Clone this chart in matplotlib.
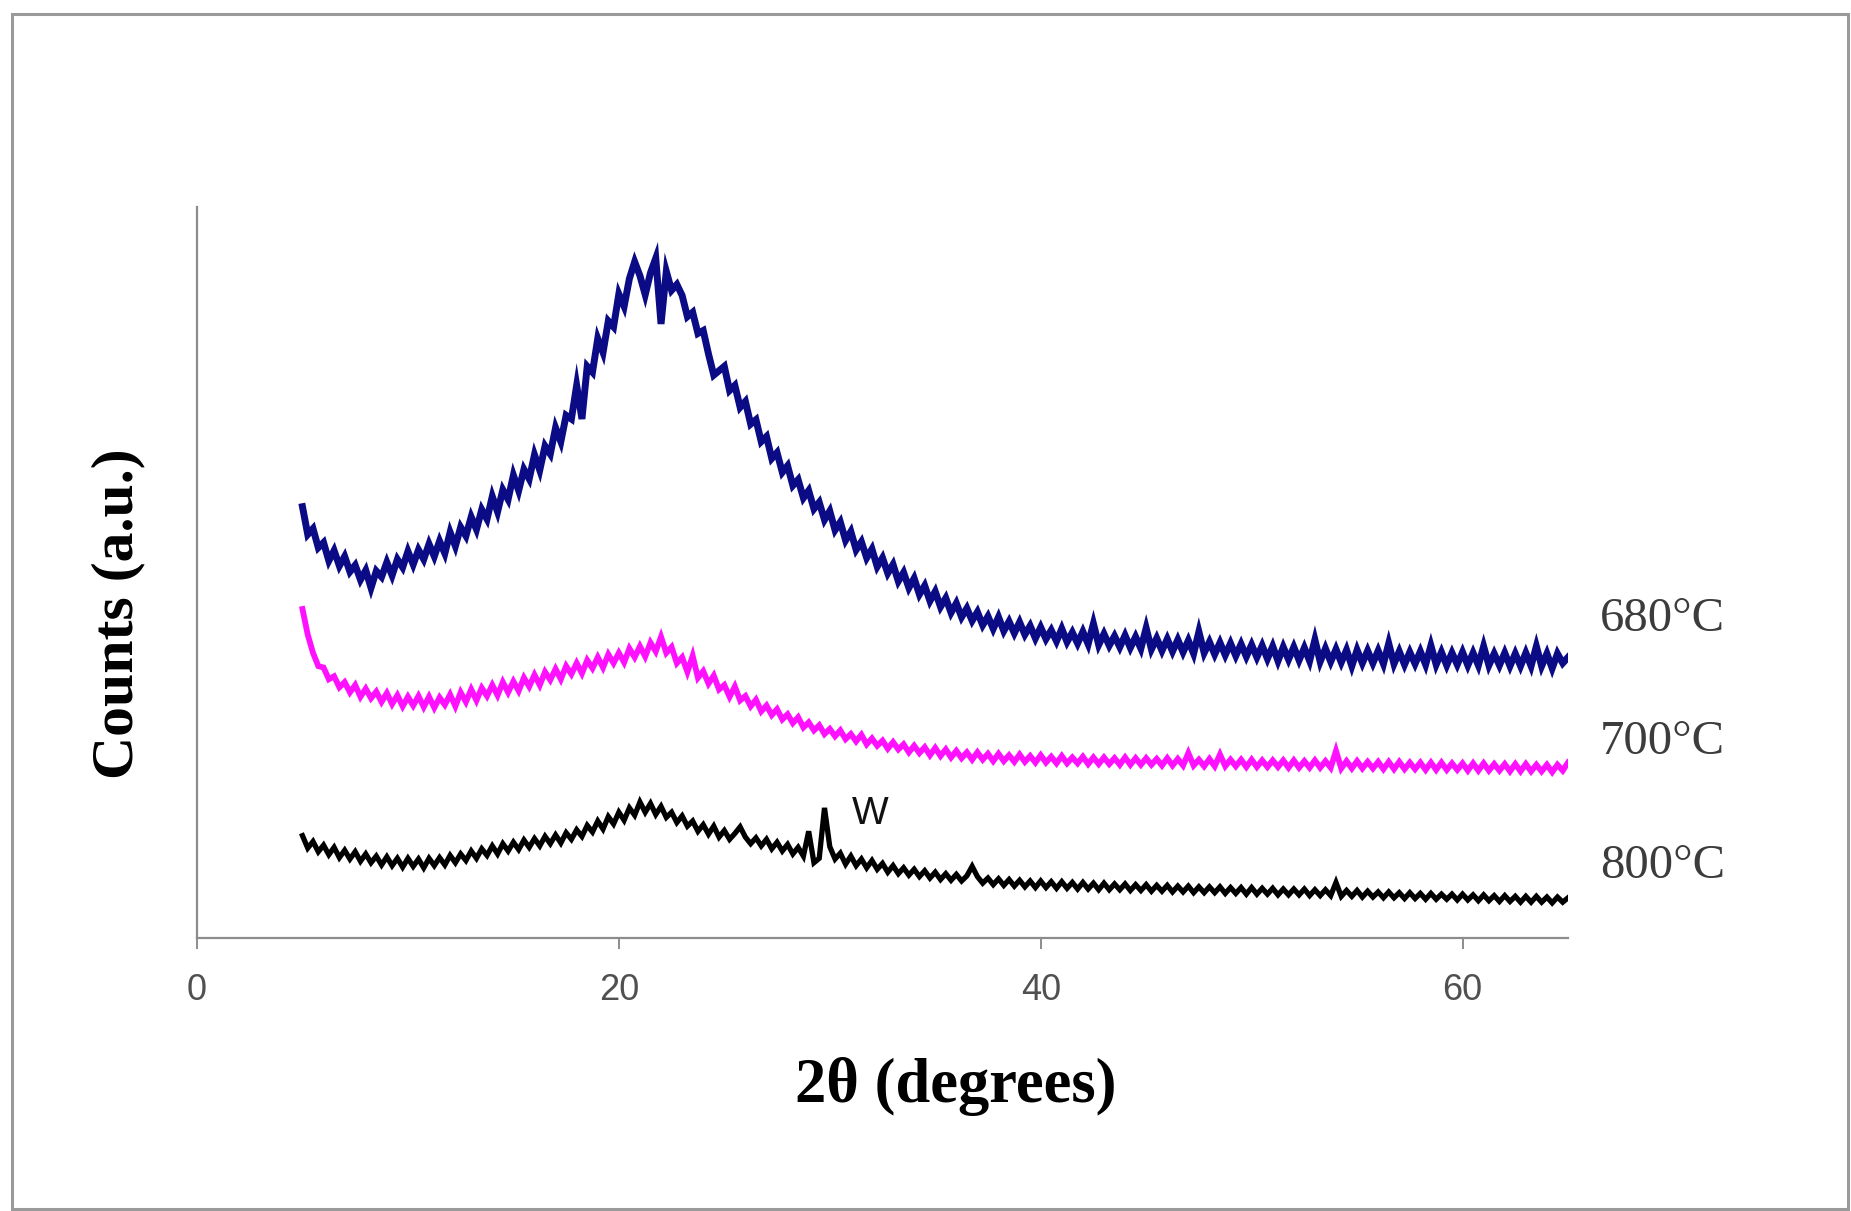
import numpy as np
import matplotlib.pyplot as plt
from matplotlib.patches import Rectangle

# 2-theta scan grid, 0.25 degree step
two_theta = np.linspace(5, 65, 241)

# one row per degree: values at x.00, x.25, x.50, x.75
counts_680 = [
    59.0, 55.2, 56.0, 53.4,
    54.1, 51.6, 53.0, 50.9,
    52.2, 50.1, 51.0, 49.0,
    50.3, 47.9, 50.2, 49.4,
    51.4, 49.6, 51.8, 50.7,
    52.9, 51.1, 53.1, 51.8,
    53.9, 52.2, 54.3, 52.6,
    55.5, 53.6, 56.2, 55.0,
    57.6, 55.9, 58.6, 57.3,
    60.4, 58.3, 61.3, 60.0,
    63.3, 61.2, 64.1, 62.8,
    66.1, 64.0, 67.3, 66.2,
    69.8, 67.9, 71.5, 71.0,
    75.6, 71.0, 78.2, 77.4,
    82.0, 80.1, 84.4, 83.6,
    88.1, 86.4, 90.2, 92.5,
    90.6, 88.0, 91.0, 93.0,
    84.0, 91.2, 88.6, 89.4,
    87.9, 85.0, 85.6, 82.7,
    83.1, 79.9, 77.0, 77.6,
    78.2, 74.9, 75.6, 72.6,
    73.4, 70.3, 70.9, 67.9,
    68.6, 65.6, 66.4, 63.7,
    64.6, 61.9, 62.7, 60.2,
    61.2, 58.7, 59.6, 57.2,
    58.4, 55.8, 56.9, 54.4,
    55.6, 53.1, 54.2, 52.0,
    53.2, 50.8, 52.0, 49.9,
    51.1, 48.8, 50.0, 47.9,
    49.2, 47.0, 48.2, 46.1,
    47.4, 45.3, 46.5, 44.5,
    45.8, 43.9, 45.1, 43.4,
    44.6, 42.8, 44.0, 42.3,
    43.9, 42.0, 43.3, 41.7,
    43.2, 41.5, 42.7, 41.0,
    42.5, 40.9, 42.1, 40.6,
    42.3, 40.5, 41.8, 40.3,
    41.9, 40.2, 43.0, 40.1,
    41.6, 40.0, 41.3, 39.8,
    41.4, 39.7, 41.2, 39.6,
    42.4, 39.5, 41.0, 39.3,
    40.9, 39.2, 40.8, 39.1,
    40.7, 38.9, 41.9, 39.0,
    40.5, 38.8, 40.4, 38.7,
    40.3, 38.6, 40.2, 38.5,
    40.1, 38.4, 40.0, 38.2,
    39.9, 37.9, 39.8, 38.1,
    39.8, 38.0, 39.7, 37.9,
    40.8, 37.8, 39.6, 37.8,
    39.5, 37.7, 39.4, 37.2,
    39.4, 37.6, 39.3, 37.6,
    39.3, 37.5, 40.3, 37.5,
    39.2, 37.4, 39.1, 37.5,
    39.2, 37.4, 40.0, 37.4,
    39.1, 37.3, 39.0, 37.4,
    39.1, 37.3, 39.0, 37.3,
    39.9, 37.3, 38.9, 37.3,
    39.0, 37.2, 38.9, 37.2,
    39.0, 37.2, 39.9, 37.2,
    38.9, 36.9, 38.9, 37.6,
    38.4,
]

counts_700 = [
    45.0, 41.5, 39.0, 37.2,
    37.0, 35.4, 35.8, 34.3,
    35.0, 33.6, 34.6, 33.0,
    34.1, 32.8, 33.7, 32.3,
    33.5, 32.0, 33.2, 31.7,
    33.0, 31.8, 33.1, 31.6,
    33.0, 31.5, 32.9, 31.9,
    33.3, 31.7, 33.6, 32.3,
    34.0, 32.5, 34.2, 33.1,
    34.6, 33.2, 35.0, 33.6,
    35.1, 33.8, 35.6, 34.4,
    36.0, 34.6, 36.4, 35.3,
    36.8, 35.4, 37.2, 36.1,
    37.6, 36.2, 38.0, 36.9,
    38.4, 37.0, 38.8, 37.6,
    39.0, 37.7, 39.6, 38.4,
    39.9, 38.5, 40.4, 39.2,
    41.2, 39.0, 39.8, 37.6,
    38.4, 36.4, 38.6, 35.6,
    36.5, 34.8, 35.9, 34.0,
    34.6, 33.0, 34.4, 32.5,
    33.1, 31.7, 32.6, 31.0,
    31.8, 30.5, 31.3, 29.9,
    30.6, 29.4, 30.2, 28.8,
    29.5, 28.4, 29.1, 27.9,
    28.6, 27.6, 28.4, 27.2,
    27.9, 26.9, 27.8, 26.5,
    27.3, 26.3, 27.0, 25.9,
    26.8, 25.8, 26.5, 25.4,
    26.3, 25.3, 26.1, 25.0,
    26.0, 24.9, 25.8, 24.7,
    25.6, 24.6, 25.4, 24.4,
    25.4, 24.4, 25.2, 24.2,
    25.2, 24.2, 25.0, 24.1,
    25.1, 24.1, 24.9, 24.0,
    25.0, 24.0, 24.8, 23.9,
    24.9, 23.9, 24.7, 23.9,
    24.8, 23.8, 24.7, 23.8,
    24.7, 23.8, 24.6, 23.7,
    24.7, 23.7, 24.6, 23.7,
    24.6, 23.7, 24.5, 23.6,
    24.6, 23.6, 24.5, 23.6,
    25.3, 23.6, 24.4, 23.5,
    24.5, 23.5, 25.1, 23.5,
    24.4, 23.5, 24.4, 23.4,
    24.4, 23.4, 24.3, 23.4,
    24.3, 23.4, 24.3, 23.3,
    24.3, 23.3, 24.2, 23.3,
    24.3, 23.3, 24.2, 23.3,
    25.6, 23.2, 24.2, 23.2,
    24.2, 23.2, 24.1, 23.2,
    24.1, 23.1, 24.1, 23.1,
    24.1, 23.1, 24.0, 23.1,
    24.0, 23.0, 24.0, 23.0,
    24.0, 23.0, 23.9, 23.0,
    23.9, 22.9, 23.9, 22.9,
    23.9, 22.9, 23.8, 22.9,
    23.8, 22.8, 23.8, 22.8,
    23.8, 22.8, 23.7, 22.8,
    23.7, 22.7, 23.7, 22.9,
    24.0,
]

counts_800 = [
    14.0, 12.3, 13.2, 11.8,
    12.7, 11.4, 12.4, 11.0,
    12.0, 10.8, 11.8, 10.5,
    11.5, 10.3, 11.2, 10.0,
    11.1, 9.9, 10.9, 9.7,
    10.9, 9.8, 10.8, 9.6,
    10.9, 9.9, 11.0, 10.0,
    11.3, 10.3, 11.5, 10.6,
    11.9, 10.9, 12.2, 11.3,
    12.6, 11.5, 12.9, 11.9,
    13.1, 12.1, 13.4, 12.4,
    13.6, 12.6, 13.9, 12.9,
    14.1, 13.0, 14.4, 13.5,
    14.8, 13.9, 15.4, 14.5,
    16.0, 14.9, 16.6, 15.6,
    17.2, 16.1, 17.8, 16.8,
    18.6, 17.2, 18.4, 16.9,
    18.0, 16.5, 17.2, 15.8,
    16.7, 15.3, 16.0, 14.6,
    15.5, 14.2, 15.3, 13.8,
    14.7, 13.5, 14.3, 15.2,
    13.8, 12.9, 13.7, 12.6,
    13.5, 12.2, 13.1, 11.9,
    12.8, 11.5, 12.4, 11.2,
    14.6, 10.3, 10.9, 17.8,
    12.5, 10.8, 11.6, 10.1,
    11.2, 9.9, 10.8, 9.6,
    10.6, 9.4, 10.2, 9.0,
    9.9, 8.8, 9.6, 8.6,
    9.4, 8.4, 9.2, 8.2,
    9.0, 8.0, 8.8, 7.9,
    8.7, 7.8, 8.5, 9.8,
    8.4, 7.5, 8.2, 7.3,
    8.1, 7.2, 8.0, 7.1,
    7.9, 7.0, 7.8, 6.9,
    7.8, 6.9, 7.7, 6.8,
    7.7, 6.8, 7.6, 6.7,
    7.6, 6.7, 7.5, 6.6,
    7.5, 6.6, 7.4, 6.6,
    7.4, 6.5, 7.3, 6.5,
    7.3, 6.4, 7.2, 6.4,
    7.2, 6.3, 7.1, 6.3,
    7.1, 6.2, 7.0, 6.2,
    7.0, 6.2, 7.0, 6.1,
    6.9, 6.1, 6.9, 6.0,
    6.9, 6.0, 6.8, 6.0,
    6.8, 5.9, 6.7, 5.9,
    6.7, 5.9, 6.7, 5.8,
    6.6, 5.8, 6.6, 5.8,
    7.6, 5.7, 6.5, 5.7,
    6.5, 5.6, 6.4, 5.6,
    6.3, 5.5, 6.3, 5.5,
    6.2, 5.4, 6.2, 5.4,
    6.1, 5.3, 6.1, 5.3,
    6.0, 5.3, 6.0, 5.2,
    6.0, 5.2, 5.9, 5.1,
    5.9, 5.1, 5.8, 5.0,
    5.8, 5.0, 5.7, 4.9,
    5.7, 4.9, 5.7, 4.9,
    5.6, 4.8, 5.6, 4.9,
    5.5,
]

series_labels = ['680°C', '700°C', '800°C']
label_levels = [43.7, 26.8, 9.8]
series_colors = ['#0b0b85', '#ff10ff', '#000000']
series_widths = [5.0, 4.2, 3.8]

W = 1851
H = 1211
fig = plt.figure(figsize=(W / 100, H / 100), dpi=100)
ax = fig.add_axes([197 / W, 1 - 938 / H, (1568 - 197) / W, (938 - 207) / H])

for y, c, w in zip([counts_680, counts_700, counts_800], series_colors, series_widths):
    ax.plot(two_theta, y, color=c, lw=w, solid_joinstyle='miter')

ax.set_xlim(0, 65)
ax.set_ylim(0, 100)
ax.set_xticks([0, 20, 40, 60])
ax.set_yticks([])
for s in ['top', 'right']:
    ax.spines[s].set_visible(False)
for s in ['left', 'bottom']:
    ax.spines[s].set_color('#8c8c8c')
    ax.spines[s].set_linewidth(1.6)
ax.tick_params(axis='x', direction='out', length=8, width=1.4, color='#8c8c8c',
               pad=17, labelsize=26, labelcolor='#505050')
for t in ax.get_xticklabels():
    t.set_fontfamily('Liberation Sans')

# curve names at the right end
for lab, lv in zip(series_labels, label_levels):
    ax.text(66.5, lv, lab, fontsize=35, family='Liberation Serif', color='#3c3c3c',
            va='center', ha='left', clip_on=False)

# weak crystalline reflection
ax.text(31.9, 16.9, 'W', fontsize=28, family='Liberation Sans', color='#111111',
        va='center', ha='center')

fig.text(956 / W, 1 - 1086 / H, '2θ (degrees)', fontsize=45, family='Liberation Serif',
         fontweight='bold', ha='center', va='center')
fig.text(118 / W, 1 - 614 / H, 'Counts (a.u.)', fontsize=43, family='Liberation Serif',
         fontweight='bold', ha='center', va='center', rotation=90)

# picture frame
fig.patches.append(Rectangle((12 / W, 2 / H), (1848 - 12) / W, (1197 - 2) / H,
                             transform=fig.transFigure, fill=False,
                             edgecolor='#9a9a9a', lw=2.2))

fig.savefig('out.png', dpi=100)
